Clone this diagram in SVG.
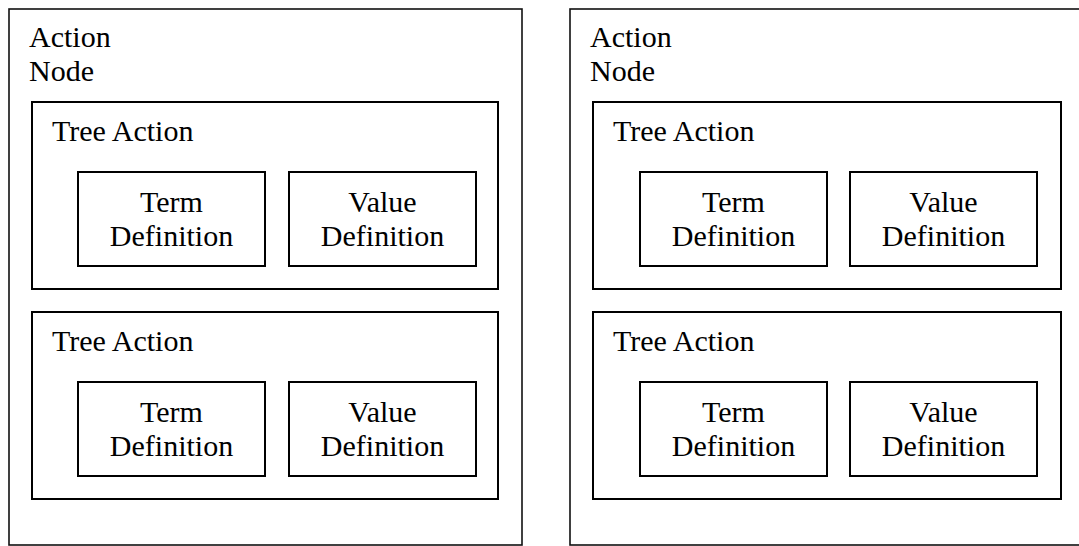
<svg xmlns="http://www.w3.org/2000/svg" width="1079" height="546" viewBox="0 0 1079 546">
  <style>
    .box { fill: none; stroke: #000; stroke-width: 2; }
    .outer { fill: none; stroke: #111; stroke-width: 1.6; }
    .lbl { font-family: "Liberation Serif", "Times New Roman", serif; font-size: 30px; fill: #000; }
    .mid { text-anchor: middle; }
  </style>
  <rect width="1079" height="546" fill="#fff"/>

  <!-- left action node -->
  <g id="action-node-1">
    <rect class="outer" x="9" y="9" width="513" height="536"/>
    <text class="lbl" x="29" y="47">Action</text>
    <text class="lbl" x="29" y="81">Node</text>
  </g>
  <g id="tree-action-1a">
    <rect class="box" x="32" y="102" width="466" height="187"/>
    <text class="lbl" x="52" y="141">Tree Action</text>
  </g>
  <g id="term-def-1a">
    <rect class="box" x="78" y="172" width="187" height="94"/>
    <text class="lbl mid" x="171.5" y="212">Term</text>
    <text class="lbl mid" x="171.5" y="246">Definition</text>
  </g>
  <g id="value-def-1a">
    <rect class="box" x="289" y="172" width="187" height="94"/>
    <text class="lbl mid" x="382.5" y="212">Value</text>
    <text class="lbl mid" x="382.5" y="246">Definition</text>
  </g>
  <g id="tree-action-1b">
    <rect class="box" x="32" y="312" width="466" height="187"/>
    <text class="lbl" x="52" y="351">Tree Action</text>
  </g>
  <g id="term-def-1b">
    <rect class="box" x="78" y="382" width="187" height="94"/>
    <text class="lbl mid" x="171.5" y="422">Term</text>
    <text class="lbl mid" x="171.5" y="456">Definition</text>
  </g>
  <g id="value-def-1b">
    <rect class="box" x="289" y="382" width="187" height="94"/>
    <text class="lbl mid" x="382.5" y="422">Value</text>
    <text class="lbl mid" x="382.5" y="456">Definition</text>
  </g>

  <!-- right action node (runs past the right edge) -->
  <g id="action-node-2">
    <rect class="outer" x="570" y="9" width="513" height="536"/>
    <text class="lbl" x="590" y="47">Action</text>
    <text class="lbl" x="590" y="81">Node</text>
  </g>
  <g id="tree-action-2a">
    <rect class="box" x="593" y="102" width="468" height="187"/>
    <text class="lbl" x="613" y="141">Tree Action</text>
  </g>
  <g id="term-def-2a">
    <rect class="box" x="640" y="172" width="187" height="94"/>
    <text class="lbl mid" x="733.5" y="212">Term</text>
    <text class="lbl mid" x="733.5" y="246">Definition</text>
  </g>
  <g id="value-def-2a">
    <rect class="box" x="850" y="172" width="187" height="94"/>
    <text class="lbl mid" x="943.5" y="212">Value</text>
    <text class="lbl mid" x="943.5" y="246">Definition</text>
  </g>
  <g id="tree-action-2b">
    <rect class="box" x="593" y="312" width="468" height="187"/>
    <text class="lbl" x="613" y="351">Tree Action</text>
  </g>
  <g id="term-def-2b">
    <rect class="box" x="640" y="382" width="187" height="94"/>
    <text class="lbl mid" x="733.5" y="422">Term</text>
    <text class="lbl mid" x="733.5" y="456">Definition</text>
  </g>
  <g id="value-def-2b">
    <rect class="box" x="850" y="382" width="187" height="94"/>
    <text class="lbl mid" x="943.5" y="422">Value</text>
    <text class="lbl mid" x="943.5" y="456">Definition</text>
  </g>

  <!-- no connectors in this diagram -->
  <g id="connectors"/>
</svg>
